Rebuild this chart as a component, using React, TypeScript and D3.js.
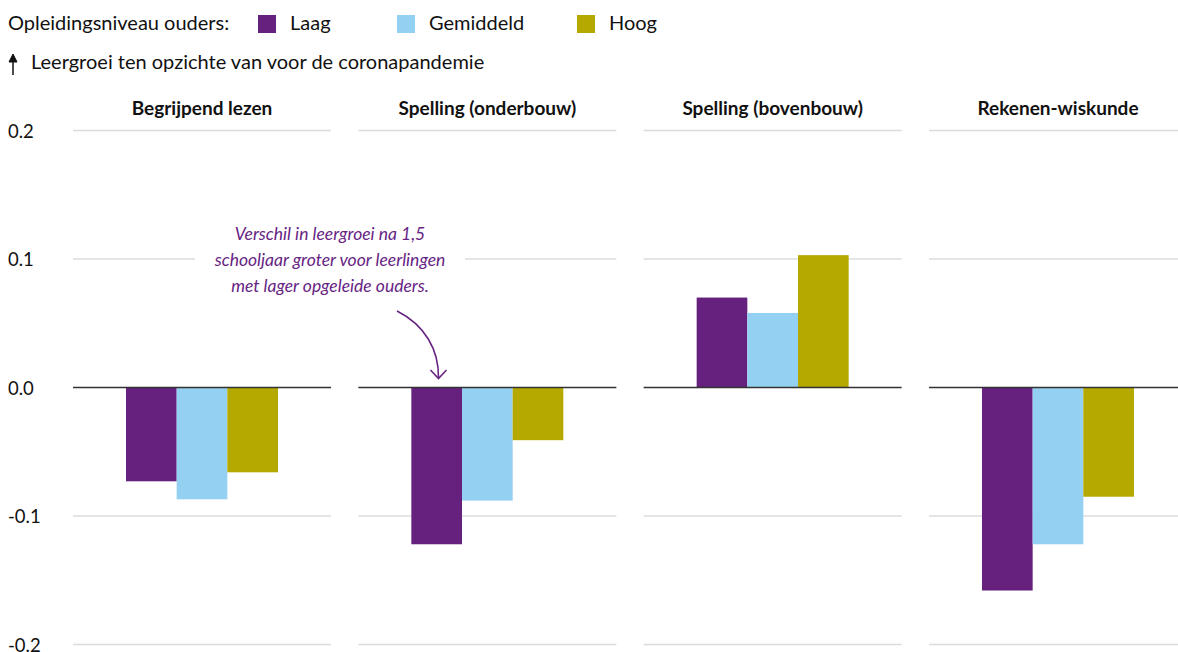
import React from "react";
import * as d3 from "d3";

const categories = ["Begrijpend lezen", "Spelling (onderbouw)", "Spelling (bovenbouw)", "Rekenen-wiskunde"];
const seriesNames = ["Laag", "Gemiddeld", "Hoog"];
const laag = [-0.073, -0.122, 0.07, -0.158];
const gemiddeld = [-0.087, -0.088, 0.058, -0.122];
const hoog = [-0.066, -0.041, 0.103, -0.085];
const yTicks = [0.2, 0.1, 0.0, -0.1, -0.2];
const colors = ["#66217f", "#93d0f2", "#b5a900"];
const annotationLines = [
  "Verschil in leergroei na 1,5",
  "schooljaar groter voor leerlingen",
  "met lager opgeleide ouders.",
];

const W = 1178;
const H = 652;
const FONT = "Lato, 'Open Sans', sans-serif";

export default function App() {
  const values = [laag, gemiddeld, hoog];
  const y = d3.scaleLinear().domain([-0.2, 0.2]).range([644.5, 130.5]);
  const panel = d3.scaleBand<string>().domain(categories).range([73, 1187]).paddingInner(0.0957).paddingOuter(0);
  const legendX = [258, 397, 577];

  const arrowPath = d3.path();
  arrowPath.moveTo(397, 311);
  arrowPath.bezierCurveTo(425, 325, 439, 350, 438.5, 378);

  return (
    <div style={{ position: "absolute", left: 0, top: 0 }}>
      <svg width={W} height={H} style={{ display: "block", fontFamily: FONT }}>
        <rect width={W} height={H} fill="#fff" />
        {/* legend */}
        <text x={8} y={30} fontSize={20} fill="#111">Opleidingsniveau ouders:</text>
        {seriesNames.map((s, i) => (
          <g key={s}>
            <rect x={legendX[i]} y={15} width={18} height={18} fill={colors[i]} />
            <text x={legendX[i] + 32} y={30} fontSize={20} fill="#111">{s}</text>
          </g>
        ))}
        {/* axis title */}
        <line x1={13} x2={13} y1={60} y2={75} stroke="#111" strokeWidth={1.5} />
        <path d="M9,62 L13,54 L17,62 Z" fill="#111" stroke="#111" strokeWidth={1} />
        <text x={31} y={69} fontSize={20} fill="#111">Leergroei ten opzichte van voor de coronapandemie</text>
        {/* y labels */}
        {yTicks.map((t) => (
          <text key={t} x={8} y={y(t) + 7} fontSize={18.5} fill="#111">{t.toFixed(1)}</text>
        ))}
        {categories.map((c, ci) => {
          const x0 = panel(c)!;
          const bw = panel.bandwidth();
          const cx = x0 + bw / 2;
          const inner = d3.scaleBand<string>().domain(seriesNames).range([cx - 76, cx + 76]);
          return (
            <g key={c}>
              <text x={cx} y={115} fontSize={19} fontWeight={700} textAnchor="middle" fill="#111">{c}</text>
              {yTicks.filter((t) => t !== 0).map((t) => (
                <line key={t} x1={x0} x2={x0 + bw} y1={y(t)} y2={y(t)} stroke="#dcdcdc" strokeWidth={1.5} />
              ))}
              {seriesNames.map((s, si) => {
                const v = values[si][ci];
                return (
                  <rect key={s} x={inner(s)!} width={inner.bandwidth()} y={Math.min(y(v), y(0))} height={Math.abs(y(v) - y(0))} fill={colors[si]} />
                );
              })}
              <line x1={x0} x2={x0 + bw} y1={y(0)} y2={y(0)} stroke="#333" strokeWidth={1.5} />
            </g>
          );
        })}
        {/* annotation */}
        <rect x={195} y={222} width={270} height={78} fill="#fff" />
        {annotationLines.map((l, i) => (
          <text key={i} x={330} y={240 + i * 26} fontSize={17.5} fontStyle="italic" textAnchor="middle" fill="#662483">{l}</text>
        ))}
        <path d={arrowPath.toString()} fill="none" stroke="#662483" strokeWidth={1.6} />
        <path d="M430.5,370 L438.5,378.5 L446.5,370" fill="none" stroke="#662483" strokeWidth={1.6} />
      </svg>
    </div>
  );
}
